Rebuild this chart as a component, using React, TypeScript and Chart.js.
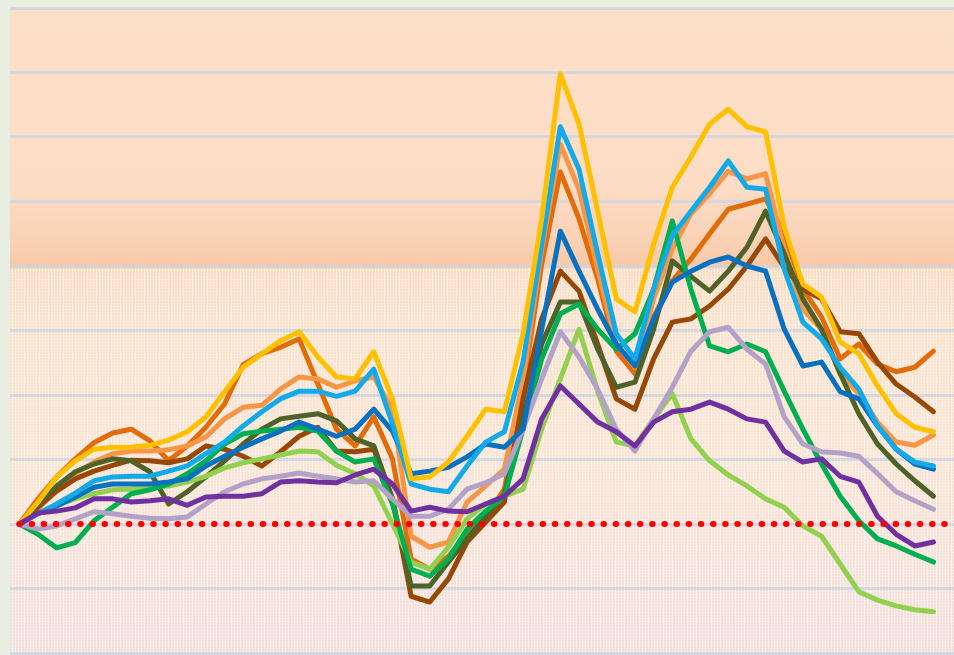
import React, { useEffect, useRef } from "react";
import { Chart, registerables } from "chart.js";

Chart.register(...registerables);

// 50 periods (index positions along the x axis)
const periodCount = 50;

// y axis ticks (values, step 10)
const yMin = -20;
const yMax = 80;
const yStep = 10;

const seriesYellow = [0, 3.4, 7.3, 9.8, 11.6, 11.9, 11.9, 12.2, 13.0, 14.3, 16.6, 20.5, 24.3, 26.4, 28.4, 29.8, 25.9, 22.8, 22.5, 26.7, 19.4, 7.0, 7.3, 9.6, 13.6, 17.8, 17.4, 29.5, 47.3, 69.8, 62.0, 48.5, 34.9, 32.9, 43.4, 52.2, 56.9, 62.0, 64.3, 61.6, 60.8, 46.0, 37.2, 35.2, 28.2, 26.4, 21.4, 17.1, 15.0, 14.3];
const seriesSky = [0, 1.6, 3.1, 4.8, 6.7, 7.3, 7.4, 7.4, 8.2, 9.0, 10.9, 12.7, 15.2, 17.4, 19.4, 20.6, 20.6, 19.8, 20.6, 24.0, 15.5, 6.2, 5.4, 5.0, 9.0, 12.7, 14.3, 25.1, 43.4, 61.6, 55.0, 41.9, 29.5, 25.6, 36.4, 44.7, 48.5, 52.2, 56.3, 52.2, 51.9, 39.5, 31.3, 28.7, 24.3, 20.9, 15.2, 11.6, 9.6, 9.0];
const seriesOrange = [0, 3.9, 7.3, 10.1, 12.6, 14.1, 14.7, 12.9, 9.8, 12.1, 15.0, 18.6, 24.7, 26.4, 27.4, 28.7, 21.7, 14.7, 12.1, 16.6, 10.1, -5.4, -7.0, -5.0, -1.6, 1.1, 5.4, 20.9, 40.3, 54.6, 47.3, 38.0, 26.8, 23.3, 32.1, 37.7, 41.1, 45.0, 48.8, 49.6, 50.4, 45.0, 36.4, 32.1, 25.6, 27.9, 24.8, 23.6, 24.3, 26.8];
const seriesSalmon = [0, 2.3, 5.4, 7.8, 9.6, 10.9, 11.3, 11.3, 11.5, 12.1, 13.5, 16.3, 18.1, 18.4, 20.9, 22.8, 22.5, 21.2, 22.2, 22.8, 17.8, -1.9, -3.6, -2.8, 3.4, 5.9, 8.5, 22.5, 42.6, 58.9, 51.9, 39.5, 27.9, 24.3, 34.9, 42.6, 48.1, 51.2, 54.7, 53.5, 54.3, 42.6, 33.3, 30.2, 23.3, 20.2, 15.8, 12.7, 12.2, 13.8];
const seriesBlue = [0, 1.6, 2.8, 4.2, 5.7, 6.2, 6.2, 6.2, 6.5, 7.0, 9.0, 10.5, 11.9, 13.2, 14.4, 15.8, 14.7, 13.6, 14.7, 17.8, 14.4, 7.8, 8.2, 8.8, 10.4, 12.4, 11.9, 14.7, 30.2, 45.4, 39.2, 33.3, 27.9, 24.5, 31.8, 37.5, 39.2, 40.6, 41.4, 40.0, 39.2, 30.2, 24.5, 25.1, 20.5, 19.4, 15.2, 11.6, 9.3, 8.5];
const seriesBrown = [0, 2.6, 5.1, 7.0, 8.2, 9.1, 9.9, 9.8, 9.5, 10.1, 12.1, 11.6, 10.5, 9.0, 11.2, 13.6, 15.0, 11.3, 11.2, 11.6, 3.9, -11.2, -12.1, -8.5, -2.8, 0.3, 3.4, 19.4, 31.8, 39.2, 36.1, 27.9, 19.4, 17.8, 25.6, 31.3, 31.8, 33.8, 36.4, 40.0, 44.2, 39.8, 36.4, 34.9, 29.8, 29.5, 25.1, 21.7, 19.7, 17.4];
const seriesOlive = [0, 3.1, 5.9, 8.1, 9.3, 10.1, 9.8, 8.1, 3.1, 5.0, 7.3, 9.8, 12.4, 14.7, 16.3, 16.7, 17.1, 16.0, 13.2, 12.1, 3.9, -9.6, -9.6, -5.9, -2.3, 1.2, 4.7, 16.3, 27.9, 34.4, 34.4, 27.1, 21.2, 22.0, 30.2, 40.8, 38.4, 36.1, 39.2, 42.9, 48.5, 41.9, 34.9, 30.2, 23.3, 17.1, 12.4, 9.3, 6.7, 4.3];
const seriesGreen = [0, -1.6, -3.7, -2.9, 0.5, 2.6, 4.7, 5.3, 6.2, 7.8, 9.8, 12.4, 14.0, 14.4, 14.7, 15.0, 14.4, 11.3, 9.6, 10.1, 3.1, -7.0, -8.1, -5.4, -0.8, 2.0, 4.3, 14.7, 25.6, 32.6, 34.1, 30.2, 27.1, 29.5, 36.4, 47.0, 36.4, 27.6, 26.7, 27.9, 26.7, 20.6, 14.7, 9.3, 4.3, 0.5, -2.3, -3.4, -4.7, -5.9];
const seriesLime = [0, 1.6, 2.9, 3.9, 4.7, 5.3, 5.4, 5.7, 5.9, 6.5, 7.4, 8.7, 9.5, 10.1, 10.7, 11.3, 11.2, 9.1, 7.8, 5.9, 0, -5.9, -7.0, -3.6, 0.8, 3.1, 4.3, 5.4, 14.7, 22.5, 30.2, 20.6, 12.7, 12.1, 16.3, 20.2, 13.2, 9.8, 7.6, 5.9, 3.9, 2.6, -0.3, -1.9, -6.2, -10.5, -11.8, -12.7, -13.3, -13.6];
const seriesLavender = [0, -0.8, -0.3, 0.8, 1.9, 1.6, 1.2, 0.9, 0.8, 1.1, 3.1, 5.0, 6.2, 7.0, 7.4, 7.9, 7.4, 7.0, 6.5, 6.7, 3.9, 1.2, 1.2, 2.3, 5.4, 6.4, 7.8, 14.7, 22.5, 29.8, 25.9, 20.9, 14.7, 11.3, 16.3, 21.2, 26.8, 29.8, 30.5, 27.1, 24.8, 16.6, 12.4, 11.2, 11.0, 10.5, 7.8, 5.0, 3.6, 2.3];
const seriesPurple = [0, 1.7, 2.0, 2.5, 3.9, 3.9, 3.4, 3.6, 3.9, 2.9, 4.2, 4.3, 4.3, 4.7, 6.5, 6.7, 6.5, 6.4, 7.6, 8.5, 6.2, 2.0, 2.6, 2.0, 1.9, 3.1, 4.3, 7.0, 16.3, 21.4, 18.6, 15.8, 14.3, 12.1, 15.8, 17.4, 17.8, 18.9, 17.8, 16.3, 15.8, 11.3, 9.6, 10.1, 7.4, 6.5, 1.2, -1.6, -3.4, -2.8];

// zero reference line (value 0 across the whole range)
const baselineValue = 0;

const seriesList = [
  { name: "Purple", data: seriesPurple, color: "#7030a0" },
  { name: "Yellow", data: seriesYellow, color: "#ffc000" },
  { name: "Sky", data: seriesSky, color: "#12aae8" },
  { name: "Blue", data: seriesBlue, color: "#0a70c0" },
  { name: "Lavender", data: seriesLavender, color: "#b3a2c7" },
  { name: "Green", data: seriesGreen, color: "#00b050" },
  { name: "Lime", data: seriesLime, color: "#92d050" },
  { name: "Olive", data: seriesOlive, color: "#4f6228" },
  { name: "Brown", data: seriesBrown, color: "#974806" },
  { name: "Salmon", data: seriesSalmon, color: "#f79646" },
  { name: "Orange", data: seriesOrange, color: "#e36c0a" },
];

const bgPlugin = {
  id: "areaBackground",
  beforeDraw(chart: any) {
    const { ctx, chartArea } = chart;
    if (!chartArea) return;
    const { left, top, right, bottom } = chartArea;
    const h = bottom - top;
    const yScale = chart.scales.y;
    const split = yScale.getPixelForValue(40) + 2;
    const f = (py: number) => Math.min(1, Math.max(0, (py - top) / h));
    ctx.save();
    const g = ctx.createLinearGradient(0, top, 0, bottom);
    g.addColorStop(0, "#fde0c8");
    g.addColorStop(f(190), "#fcdcc4");
    g.addColorStop(f(240), "#fad2b6");
    g.addColorStop(f(split - 1), "#f8c8a6");
    g.addColorStop(f(split + 1), "#fbdcc2");
    g.addColorStop(f(330), "#fae1cb");
    g.addColorStop(f(450), "#f9e3d2");
    g.addColorStop(f(560), "#f6e1d8");
    g.addColorStop(1, "#f2dedc");
    ctx.fillStyle = g;
    ctx.fillRect(left, top, right - left, h);
    // halftone texture on the lower band
    const pc = document.createElement("canvas");
    pc.width = 3;
    pc.height = 3;
    const pctx = pc.getContext("2d");
    if (pctx) {
      pctx.fillStyle = "rgba(255,255,255,0.45)";
      pctx.fillRect(0, 0, 1, 3);
      pctx.fillStyle = "rgba(255,255,255,0.25)";
      pctx.fillRect(1, 0, 2, 1);
      const pat = ctx.createPattern(pc, "repeat");
      if (pat) {
        ctx.fillStyle = pat;
        ctx.fillRect(left, split, right - left, bottom - split);
      }
    }
    ctx.restore();
  },
};

export default function App() {
  const ref = useRef<HTMLCanvasElement | null>(null);

  useEffect(() => {
    if (!ref.current) return;
    const toPoints = (arr: number[]) => arr.map((v, i) => ({ x: i, y: v }));
    const datasets: any[] = [
      {
        label: "Zero",
        data: [
          { x: 0, y: baselineValue },
          { x: periodCount + 0.2, y: baselineValue },
        ],
        borderColor: "#ff0000",
        borderWidth: 6,
        borderDash: [0.5, 11.67],
        borderCapStyle: "round",
        pointRadius: 0,
      },
      ...seriesList.map((s) => ({
        label: s.name,
        data: toPoints(s.data),
        borderColor: s.color,
        backgroundColor: s.color,
        borderWidth: 5,
        pointRadius: 0,
        tension: 0,
        borderJoinStyle: "round",
        borderCapStyle: "round",
      })),
    ];
    const chart = new Chart(ref.current, {
      type: "line",
      data: { datasets },
      plugins: [bgPlugin],
      options: {
        animation: false,
        responsive: false,
        devicePixelRatio: 1,
        layout: { padding: { left: 10, top: 8, right: 0, bottom: 2 } },
        plugins: {
          legend: { display: false },
          tooltip: { enabled: false },
        },
        scales: {
          x: {
            type: "linear",
            min: -0.5,
            max: periodCount + 0.1,
            display: false,
          },
          y: {
            min: yMin,
            max: yMax,
            ticks: { display: false, stepSize: yStep },
            grid: {
              color: "rgba(204,213,228,0.8)",
              lineWidth: 3,
              drawTicks: false,
            },
            border: { display: false },
          },
        },
      },
    });
    return () => chart.destroy();
  }, []);

  return (
    <div
      style={{
        position: "absolute",
        left: 0,
        top: 0,
        width: 954,
        height: 655,
        background: "#e8eee2",
        overflow: "hidden",
      }}
    >
      <canvas ref={ref} width={954} height={655} style={{ display: "block" }} />
    </div>
  );
}
